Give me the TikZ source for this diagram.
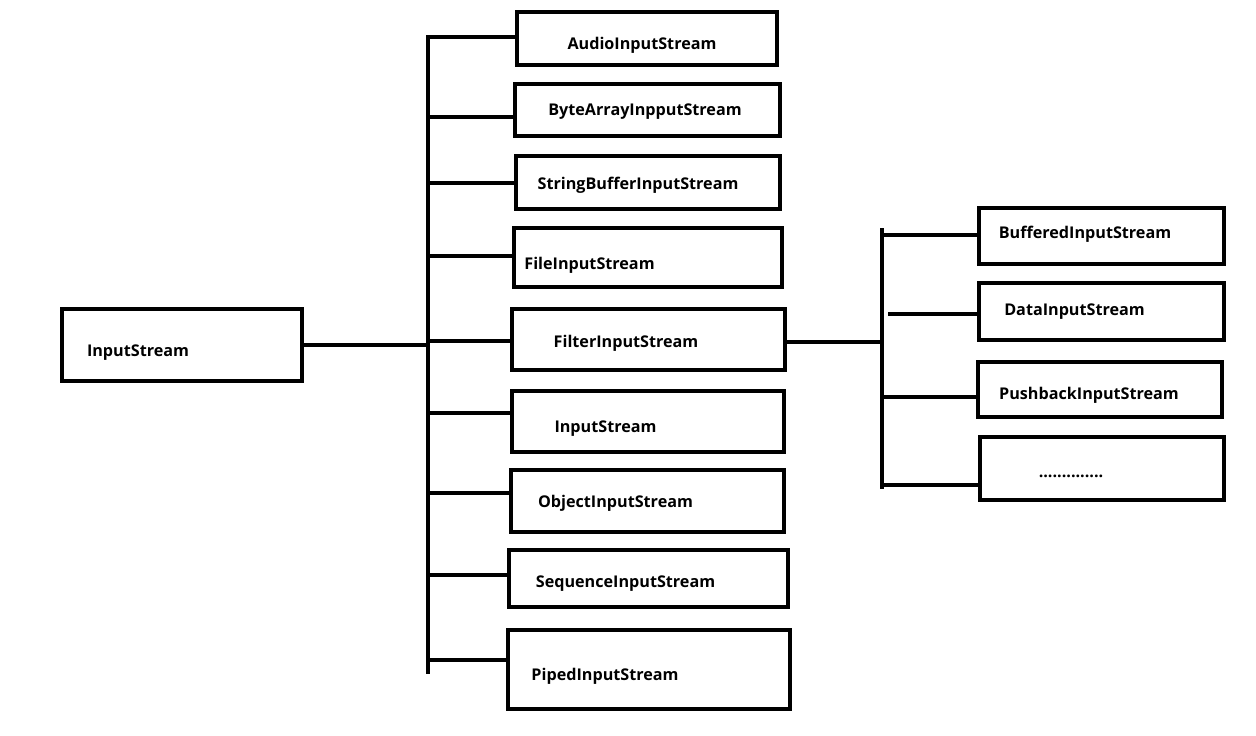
\documentclass[tikz,border=0pt]{standalone}
\usepackage{fontspec}
\setmainfont{Open Sans}

\begin{document}
\begin{tikzpicture}[x=0.02cm,y=-0.02cm,line width=2.6pt,
    box/.style={draw,rectangle,inner sep=0pt},
    caption/.style={font=\bfseries\fontsize{9.2}{11}\selectfont,yshift=-1.5pt},
    link/.style={line cap=rect}]
\useasboundingbox (0,0) rectangle (1256,735);

% root
\node[box,minimum width=4.8cm,minimum height=1.44cm] (root) at (182,345) {};
\node[caption] (roottext) at (138,350) {InputStream};

% subclasses
\node[box,minimum width=5.2cm,minimum height=1.06cm] (audio) at (647,38.5) {};
\node[caption] (audiotext) at (642,43) {AudioInputStream};
\node[box,minimum width=5.3cm,minimum height=1.04cm] (bytearr) at (647.5,110) {};
\node[caption] (bytearrtext) at (645,109) {ByteArrayInpputStream};
\node[box,minimum width=5.28cm,minimum height=1.06cm] (strbuf) at (648,182.5) {};
\node[caption] (strbuftext) at (638,183) {StringBufferInputStream};
\node[box,minimum width=5.36cm,minimum height=1.18cm] (file) at (648,257.5) {};
\node[caption] (filetext) at (589.5,263) {FileInputStream};
\node[box,minimum width=5.46cm,minimum height=1.22cm] (filter) at (648.5,339.5) {};
\node[caption] (filtertext) at (626,341) {FilterInputStream};
\node[box,minimum width=5.44cm,minimum height=1.22cm] (input) at (648,421.5) {};
\node[caption] (inputtext) at (605.5,426) {InputStream};
\node[box,minimum width=5.46cm,minimum height=1.24cm] (object) at (647.5,501) {};
\node[caption] (objecttext) at (615.5,501) {ObjectInputStream};
\node[box,minimum width=5.58cm,minimum height=1.14cm] (sequence) at (648.5,578.5) {};
\node[caption] (sequencetext) at (625.5,581) {SequenceInputStream};
\node[box,minimum width=5.64cm,minimum height=1.58cm] (piped) at (649,669.5) {};
\node[caption] (pipedtext) at (605,674) {PipedInputStream};

% filter subclasses
\node[box,minimum width=4.9cm,minimum height=1.12cm] (buffered) at (1101.5,236) {};
\node[caption] (bufferedtext) at (1085,232) {BufferedInputStream};
\node[box,minimum width=4.9cm,minimum height=1.14cm] (data) at (1101.5,311.5) {};
\node[caption] (datatext) at (1074.5,309) {DataInputStream};
\node[box,minimum width=4.88cm,minimum height=1.10cm] (pushback) at (1100,389.5) {};
\node[caption] (pushbacktext) at (1089,393) {PushbackInputStream};
\node[box,minimum width=4.88cm,minimum height=1.26cm] (more) at (1102,468.5) {};
\node[caption] (moretext) at (1071,474) {..............};

% left trunk
\coordinate (ltop) at (428,37);
\coordinate (lbot) at (428,672);
\coordinate (lroot) at (428,345);
\draw[link] (ltop) -- (lbot);
\draw (root.east |- lroot) -- (lroot);
\coordinate (ja) at (428,37);
\coordinate (jb) at (428,117);
\coordinate (jc) at (428,183);
\coordinate (jd) at (428,256);
\coordinate (je) at (428,341);
\coordinate (jf) at (428,413);
\coordinate (jg) at (428,493);
\coordinate (jh) at (428,575);
\coordinate (ji) at (428,660);
\draw (ja) -- (ja -| audio.west);
\draw (jb) -- (jb -| bytearr.west);
\draw (jc) -- (jc -| strbuf.west);
\draw (jd) -- (jd -| file.west);
\draw (je) -- (je -| filter.west);
\draw (jf) -- (jf -| input.west);
\draw (jg) -- (jg -| object.west);
\draw (jh) -- (jh -| sequence.west);
\draw (ji) -- (ji -| piped.west);

% right trunk
\coordinate (rtop) at (882,230);
\coordinate (rbot) at (882,487);
\coordinate (rfilter) at (882,342);
\draw[link] (rtop) -- (rbot);
\draw (filter.east |- rfilter) -- (rfilter);
\coordinate (ka) at (882,235);
\coordinate (kb) at (888,314);
\coordinate (kc) at (882,397);
\coordinate (kd) at (882,485);
\draw (ka) -- (ka -| buffered.west);
\draw (kb) -- (kb -| data.west);
\draw (kc) -- (kc -| pushback.west);
\draw (kd) -- (kd -| more.west);
\end{tikzpicture}
\end{document}
